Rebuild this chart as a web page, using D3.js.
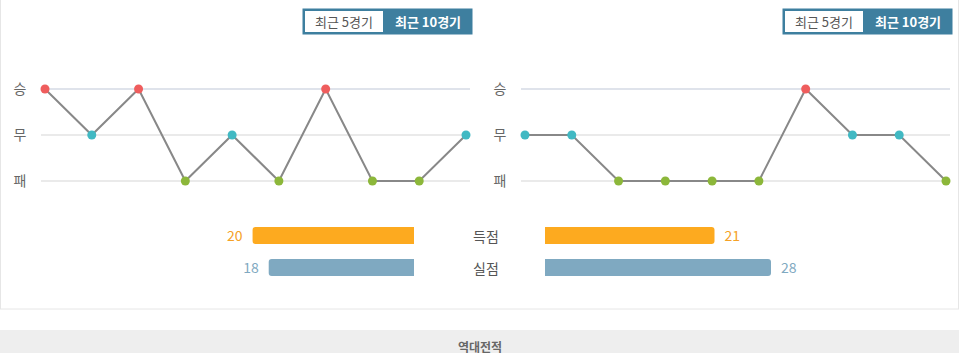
<!DOCTYPE html>
<html>
<head>
<meta charset="utf-8">
<script src="https://cdn.jsdelivr.net/npm/d3@7"></script>
<style>
  body { margin: 0; background: #fff; font-family: "Noto Sans CJK KR", "Noto Sans", sans-serif; }
</style>
</head>
<body>
<div id="chart"></div>
<script>
// form data (승 = win, 무 = draw, 패 = loss)
var resultLevels = ["승", "무", "패"];
var homeForm = ["승", "무", "승", "패", "무", "패", "승", "패", "패", "무"];
var awayForm = ["무", "무", "패", "패", "패", "패", "승", "무", "무", "패"];

// goals
var goalLabels = ["득점", "실점"];
var homeGoals = [20, 18];
var awayGoals = [21, 28];

var tabLabels = ["최근 5경기", "최근 10경기"];

var W = 960, H = 353;
var resultColor = { "승": "#ef5d5d", "무": "#41b9c3", "패": "#8cb73a" };
var goalColor = ["#fdaa1f", "#7fa9c1"];
var goalText = ["#f5a126", "#7fa9c1"];

var svg = d3.select("#chart").append("svg")
    .attr("width", W).attr("height", H);

// outer panel border
svg.append("rect")
    .attr("x", 0.5).attr("y", -1)
    .attr("width", 958).attr("height", 310)
    .attr("fill", "#fff").attr("stroke", "#e6e6e6");

// bottom grey strip
svg.append("rect")
    .attr("x", 0).attr("y", 330).attr("width", 959).attr("height", 30)
    .attr("fill", "#eeeeee");
svg.append("text")
    .attr("x", 480).attr("y", 352)
    .attr("text-anchor", "middle")
    .attr("font-size", 12).attr("font-weight", "bold")
    .attr("fill", "#666")
    .text("역대전적");

// tabs
function drawTabs(x0) {
    var g = svg.append("g").attr("transform", "translate(" + x0 + ",8)");
    g.append("rect").attr("x", 0.5).attr("y", 0.5).attr("width", 170).attr("height", 26)
        .attr("fill", "#3e7f9f");
    g.append("rect").attr("x", 3).attr("y", 3).attr("width", 78).attr("height", 21)
        .attr("fill", "#fff");
    g.append("text").attr("x", 42).attr("y", 18.5).attr("text-anchor", "middle")
        .attr("font-size", 13).attr("fill", "#555").text(tabLabels[0]);
    g.append("text").attr("x", 126).attr("y", 18.5).attr("text-anchor", "middle")
        .attr("font-size", 13).attr("font-weight", "bold").attr("fill", "#fff").text(tabLabels[1]);
}
drawTabs(302);
drawTabs(782);

// form line charts
function drawForm(data, x0) {
    var x = d3.scalePoint()
        .domain(d3.range(data.length))
        .range([x0 + 4, x0 + 425]);
    var y = d3.scalePoint()
        .domain(resultLevels)
        .range([89, 181]);

    var g = svg.append("g");

    g.selectAll(".grid")
        .data(resultLevels)
        .enter().append("line")
        .attr("x1", x0).attr("x2", x0 + 429)
        .attr("y1", function (d) { return y(d); })
        .attr("y2", function (d) { return y(d); })
        .attr("stroke", function (d, i) { return i == 0 ? "#d5dae4" : "#e3e3e3"; })
        .attr("stroke-width", 1.5);

    g.selectAll(".lab")
        .data(resultLevels)
        .enter().append("text")
        .attr("x", x0 - 21).attr("y", function (d) { return y(d) + 5; })
        .attr("text-anchor", "middle")
        .attr("font-size", 14).attr("fill", "#666")
        .text(function (d) { return d; });

    g.append("path")
        .datum(data)
        .attr("d", d3.line()
            .x(function (d, i) { return x(i); })
            .y(function (d) { return y(d); }))
        .attr("fill", "none")
        .attr("stroke", "#888")
        .attr("stroke-width", 2);

    g.selectAll(".pt")
        .data(data)
        .enter().append("circle")
        .attr("cx", function (d, i) { return x(i); })
        .attr("cy", function (d) { return y(d); })
        .attr("r", 4.5)
        .attr("fill", function (d) { return resultColor[d]; });
}
drawForm(homeForm, 41);
drawForm(awayForm, 521);

// goal bars
var gx = d3.scaleLinear().domain([0, 28]).range([0, 226]);
var gy = d3.scalePoint().domain(goalLabels).range([227, 259]);

function barPath(x1, x2, y0, h, side) {
    // rounded only on the outer side
    var r = 3;
    if (side == "left") {
        return "M" + x2 + "," + y0 + "H" + (x1 + r) + "Q" + x1 + "," + y0 + " " + x1 + "," + (y0 + r)
            + "V" + (y0 + h - r) + "Q" + x1 + "," + (y0 + h) + " " + (x1 + r) + "," + (y0 + h)
            + "H" + x2 + "Z";
    }
    return "M" + x1 + "," + y0 + "H" + (x2 - r) + "Q" + x2 + "," + y0 + " " + x2 + "," + (y0 + r)
        + "V" + (y0 + h - r) + "Q" + x2 + "," + (y0 + h) + " " + (x2 - r) + "," + (y0 + h)
        + "H" + x1 + "Z";
}

var bars = svg.append("g");
goalLabels.forEach(function (lab, i) {
    var yy = gy(lab), h = 17;
    var lx = 414 - gx(homeGoals[i]);
    bars.append("path").attr("d", barPath(lx, 414, yy, h, "left")).attr("fill", goalColor[i]);
    bars.append("text").attr("x", lx - 10).attr("y", yy + 14)
        .attr("text-anchor", "end").attr("font-size", 14).attr("fill", goalText[i])
        .text(homeGoals[i]);

    var rx = 545 + gx(awayGoals[i]);
    bars.append("path").attr("d", barPath(545, rx, yy, h, "right")).attr("fill", goalColor[i]);
    bars.append("text").attr("x", rx + 10).attr("y", yy + 14)
        .attr("text-anchor", "start").attr("font-size", 14).attr("fill", goalText[i])
        .text(awayGoals[i]);

    bars.append("text").attr("x", 486).attr("y", yy + 15)
        .attr("text-anchor", "middle").attr("font-size", 14).attr("fill", "#555")
        .text(lab);
});
</script>
</body>
</html>
